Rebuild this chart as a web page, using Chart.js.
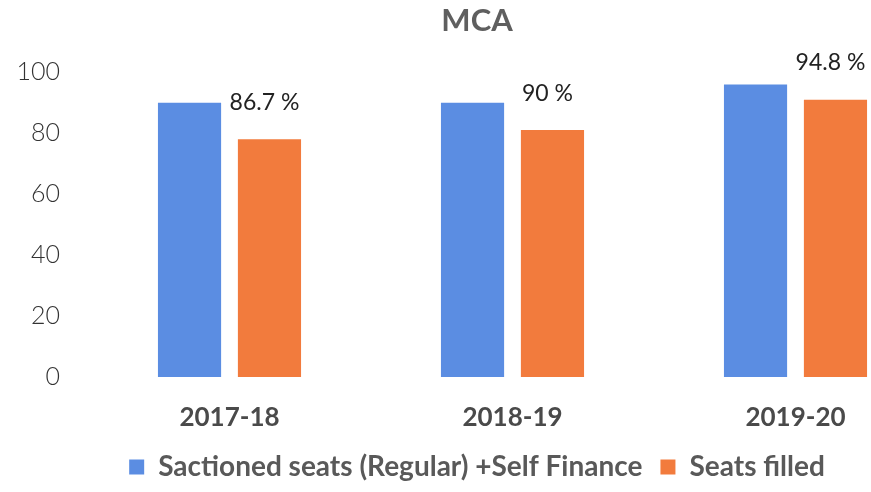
<!DOCTYPE html>
<html>
<head>
<meta charset="utf-8">
<script src="https://cdn.jsdelivr.net/npm/chart.js@4/dist/chart.umd.min.js"></script>
<style>
  html, body { margin: 0; padding: 0; background: #fff; overflow: hidden; }
  #wrap { width: 980px; height: 492px; }
</style>
</head>
<body>
<div id="wrap"><canvas id="myChart" width="980" height="492"></canvas></div>
<script>
const years = ["2017-18", "2018-19", "2019-20"];
const sanctioned = [90, 90, 96];
const filled = [78, 81, 91];
const filledPct = ["86.7 %", "90 %", "94.8 %"];

const fontFam = "Lato, 'Open Sans', sans-serif";

// percentage text above the orange bars
const pctLabels = {
  id: "pctLabels",
  afterDatasetsDraw(chart) {
    const ctx = chart.ctx;
    const meta = chart.getDatasetMeta(1);
    ctx.save();
    ctx.font = "23px " + fontFam;
    ctx.fillStyle = "#222";
    ctx.textAlign = "center";
    ctx.textBaseline = "middle";
    meta.data.forEach((bar, i) => {
      ctx.fillText(filledPct[i], bar.x - 5, bar.y - 37);
    });
    ctx.restore();
  }
};

const data = {
  labels: years,
  datasets: [
    {
      label: "Sactioned seats (Regular) +Self Finance",
      backgroundColor: "#5B8DE2",
      data: sanctioned,
      categoryPercentage: 0.565,
      barPercentage: 0.79
    },
    {
      label: "Seats filled",
      backgroundColor: "#F27B3D",
      data: filled,
      categoryPercentage: 0.565,
      barPercentage: 0.79
    }
  ]
};

const config = {
  type: "bar",
  data: data,
  options: {
    responsive: false,
    animation: false,
    layout: { padding: { left: 17, right: 43, top: 0, bottom: 1 } },
    plugins: {
      title: {
        display: true,
        text: "MCA",
        color: "#5f5f5f",
        font: { family: fontFam, size: 31, weight: "bold" },
        padding: { top: 2, bottom: 33 }
      },
      legend: {
        position: "bottom",
        labels: {
          color: "#595959",
          font: { family: fontFam, size: 28, weight: "bold" },
          boxWidth: 15,
          boxHeight: 15,
          padding: 18
        }
      },
      tooltip: { enabled: false }
    },
    scales: {
      x: {
        grid: { display: false, drawTicks: false },
        border: { display: false },
        ticks: {
          color: "#4a4a4a",
          font: { family: fontFam, size: 26, weight: "bold" },
          padding: 25
        },
        afterFit: (scale) => { scale.height = 58; }
      },
      y: {
        min: 0,
        max: 100,
        grid: { display: false, drawTicks: false },
        border: { display: false },
        ticks: {
          stepSize: 20,
          color: "#333",
          font: { family: fontFam, size: 25, weight: 300 },
          padding: 28
        },
        afterFit: (scale) => { scale.width = 71; }
      }
    }
  },
  plugins: [pctLabels]
};

const myChart = new Chart(document.getElementById("myChart"), config);
</script>
</body>
</html>
